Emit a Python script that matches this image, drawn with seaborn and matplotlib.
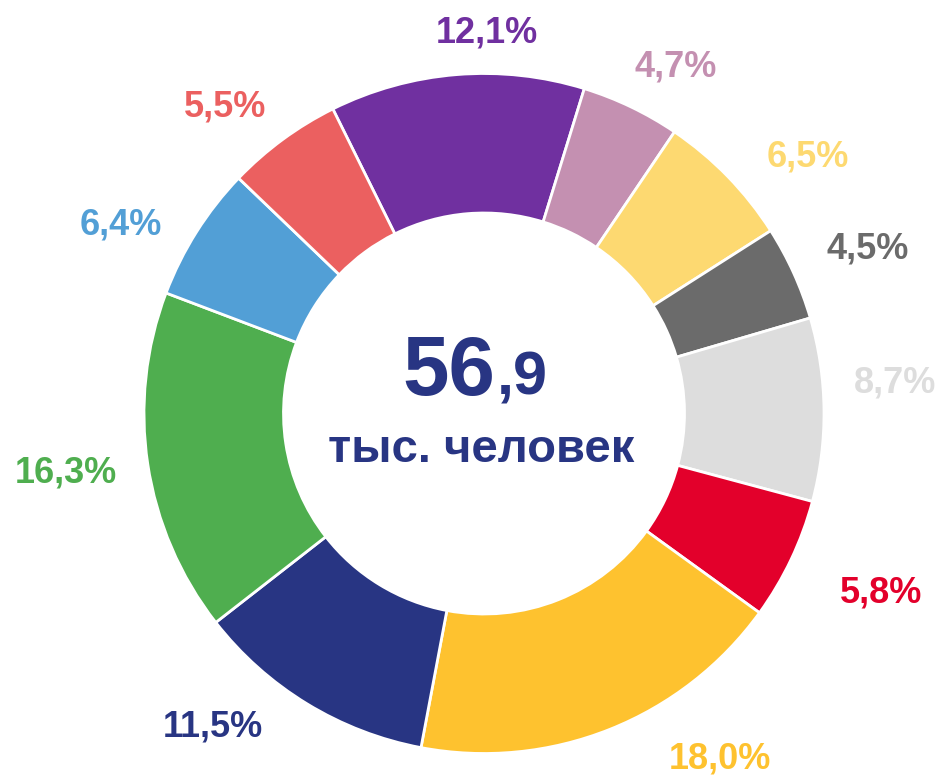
import matplotlib
matplotlib.use("Agg")
import matplotlib.pyplot as plt
import seaborn as sns

sns.set_theme(style="white")
plt.rcParams['font.family'] = ['Liberation Sans', 'DejaVu Sans']

# Data (clockwise from the purple segment)
shares = [12.1, 4.7, 6.5, 4.5, 8.7, 5.8, 18.0, 11.5, 16.3, 6.4, 5.5]
labels = ["12,1%", "4,7%", "6,5%", "4,5%", "8,7%", "5,8%", "18,0%", "11,5%", "16,3%", "6,4%", "5,5%"]
colors = ["#7030A0", "#C490B1", "#FDD971", "#6B6B6B", "#DDDDDD", "#E3002B",
          "#FEC22F", "#283583", "#4FAE4F", "#529FD6", "#EB6060"]
total_big = "56"
total_small = ",9"
total_unit = "тыс. человек"

# label positions in pixel coords (x, baseline y from top)
label_pos = [(487, 43), (676, 76), (808, 166), (868, 258), (895, 392), (881, 602),
             (720, 768), (213, 736), (66, 482), (121, 235), (225, 117)]

W, H = 944, 776
fig = plt.figure(figsize=(W / 100, H / 100), dpi=100)
ax = fig.add_axes([0, 0, 1, 1])

cx, cy = 484, H - 413.5
R, r_in = 340, 200.5
ax.pie(shares, colors=colors, startangle=116.4, counterclock=False,
       center=(cx, cy), radius=R,
       wedgeprops=dict(width=R - r_in, edgecolor="white", linewidth=2))
ax.set_xlim(0, W)
ax.set_ylim(0, H)
ax.set_aspect("equal")
ax.axis("off")

for lab, (x, y), c in zip(labels, label_pos, colors):
    ax.text(x, H - y, lab, color=c, fontsize=26, fontweight="bold",
            ha="center", va="baseline")

navy = "#283583"
ax.text(495, H - 395, total_big, color=navy, fontsize=60, fontweight="bold",
        ha="right", va="baseline")
ax.text(497, H - 395, total_small, color=navy, fontsize=44, fontweight="bold",
        ha="left", va="baseline")
ax.text(481, H - 462, total_unit, color=navy, fontsize=34, fontweight="bold",
        ha="center", va="baseline")

fig.savefig("out.png", dpi=100, facecolor="white")
